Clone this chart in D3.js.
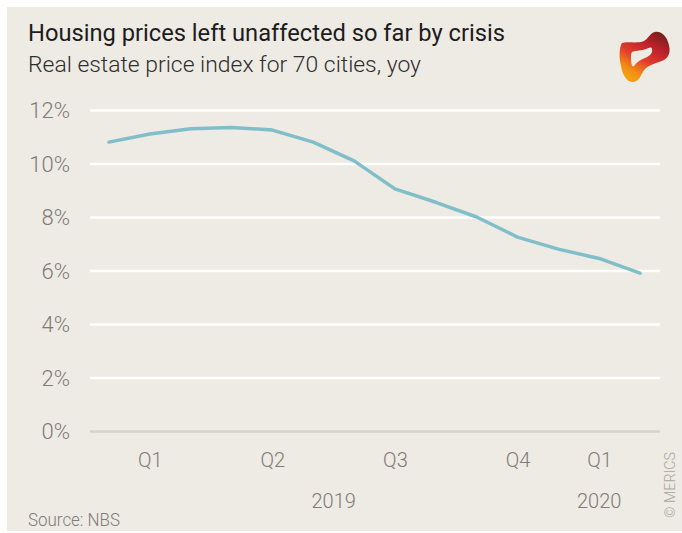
<!DOCTYPE html>
<html>
<head>
<meta charset="utf-8">
<script src="https://cdn.jsdelivr.net/npm/d3@7"></script>
<style>
  body { margin: 0; background: #fff; }
  svg { display: block; }
</style>
</head>
<body>
<div id="chart"></div>
<script>
// data: monthly yoy change, Jan 2019 - Feb 2020
const months = ["2019-01", "2019-02", "2019-03", "2019-04", "2019-05", "2019-06", "2019-07",
    "2019-08", "2019-09", "2019-10", "2019-11", "2019-12", "2020-01", "2020-02"]
const values = [10.8, 11.1, 11.3, 11.35, 11.25, 10.8, 10.1, 9.05, 8.55, 8.0, 7.25, 6.8, 6.45, 5.9]
const yTicks = [0, 2, 4, 6, 8, 10, 12]
const quarterLabels = [{ i: 1, t: "Q1" }, { i: 4, t: "Q2" }, { i: 7, t: "Q3" }, { i: 10, t: "Q4" }, { i: 12, t: "Q1" }]
const yearLabels = [{ i: 5.5, t: "2019" }, { i: 12, t: "2020" }]

const W = 682, H = 533
const bg = "#eeeae4"
const grey = "#7f7b78"

const svg = d3.select("#chart").append("svg")
    .attr("width", W)
    .attr("height", H)

svg.append("rect").attr("x", 7).attr("y", 7).attr("width", W - 7).attr("height", H - 9).attr("fill", bg)

const fit = (sel, w) => sel.attr("textLength", w).attr("lengthAdjust", "spacingAndGlyphs")

// titles
svg.append("text")
    .attr("x", 28).attr("y", 41)
    .text("Housing prices left unaffected so far by crisis")
    .attr("font-family", "Roboto").attr("font-size", 23).attr("font-weight", 400)
    .style("fill", "#1c1c1c")
    .call(fit, 477)

svg.append("text")
    .attr("x", 28).attr("y", 72)
    .text("Real estate price index for 70 cities, yoy")
    .attr("font-family", "Roboto").attr("font-size", 22).attr("font-weight", 300)
    .style("fill", "#2e2e2e")
    .call(fit, 393)

// scales
const x = d3.scaleLinear().domain([0, months.length - 1]).range([109, 640])
const y = d3.scaleLinear().domain([0, 12]).range([431, 110])
const gridLeft = 90, gridRight = 660

// y axis + grid
const yAxis = d3.axisLeft(y)
    .tickValues(yTicks)
    .tickSize(-(gridRight - gridLeft))
    .tickPadding(20)
    .tickFormat(d => d + "%")

const gy = svg.append("g")
    .attr("transform", "translate(" + gridLeft + ",0)")
    .call(yAxis)
gy.select(".domain").remove()
gy.selectAll(".tick line")
    .attr("stroke", d => d === 0 ? "#d6d2cc" : "#ffffff")
    .attr("stroke-width", 2.5)
gy.selectAll(".tick text")
    .attr("font-family", "Roboto").attr("font-size", 22).attr("font-weight", 300)
    .attr("dy", "0.36em")
    .style("fill", grey)

// x axis: quarters
const xAxis = d3.axisBottom(x)
    .tickValues(quarterLabels.map(d => d.i))
    .tickSize(0)
    .tickPadding(0)
    .tickFormat((d, k) => quarterLabels[k].t)

const gx = svg.append("g")
    .attr("transform", "translate(0,452)")
    .call(xAxis)
gx.select(".domain").remove()
gx.selectAll(".tick text")
    .attr("font-family", "Roboto").attr("font-size", 20).attr("font-weight", 300)
    .attr("dy", "0.75em")
    .style("fill", grey)

svg.append("g")
    .selectAll("text")
    .data(yearLabels)
    .enter()
    .append("text")
    .attr("x", d => x(d.i))
    .attr("y", 508)
    .attr("text-anchor", "middle")
    .text(d => d.t)
    .attr("font-family", "Roboto").attr("font-size", 20).attr("font-weight", 300)
    .style("fill", grey)

// line
const line = d3.line()
    .x((d, i) => x(i))
    .y(d => y(d))

svg.append("path")
    .datum(values)
    .attr("d", line)
    .attr("fill", "none")
    .attr("stroke", "#80bfc9")
    .attr("stroke-width", 3.5)
    .attr("stroke-linecap", "round")
    .attr("stroke-linejoin", "round")

// footer
svg.append("text")
    .attr("x", 28).attr("y", 526)
    .text("Source: NBS")
    .attr("font-family", "Roboto").attr("font-size", 18).attr("font-weight", 300)
    .style("fill", grey)
    .call(fit, 92)

svg.append("text")
    .attr("transform", "translate(675,518) rotate(-90)")
    .text("© MERICS")
    .attr("font-family", "Roboto").attr("font-size", 14).attr("font-weight", 300)
    .style("fill", "#a9a6a2")
    .call(fit, 66)

// logo
const defs = svg.append("defs")
const grad = defs.append("linearGradient")
    .attr("id", "logoGrad")
    .attr("x1", "0.9").attr("y1", "0").attr("x2", "0.35").attr("y2", "1")
grad.append("stop").attr("offset", "0").attr("stop-color", "#6a2214")
grad.append("stop").attr("offset", "0.3").attr("stop-color", "#b8202a")
grad.append("stop").attr("offset", "0.6").attr("stop-color", "#e23a2c")
grad.append("stop").attr("offset", "0.85").attr("stop-color", "#f08a18")
grad.append("stop").attr("offset", "1").attr("stop-color", "#f5a010")

svg.append("path")
    .attr("d", "M622,43 C627,41 637,44 644,41 C648,39 650,33 655,32 C661,31 666,36 668,42 " +
        "C671,50 670,56 664,60 C658,63 650,64 645,69 C641,73 641,80 634,82 " +
        "C627,83 622,74 621,66 C619,58 619,48 622,43 Z " +
        "M632,52 C636,50 642,51 646,49 C649,48 651,46 652,49 C653,53 650,56 645,58 " +
        "C640,60 637,62 634,66 C632,68 631,63 631,58 C631,55 631,53 632,52 Z")
    .attr("fill", "url(#logoGrad)")
    .attr("fill-rule", "evenodd")
</script>
</body>
</html>
